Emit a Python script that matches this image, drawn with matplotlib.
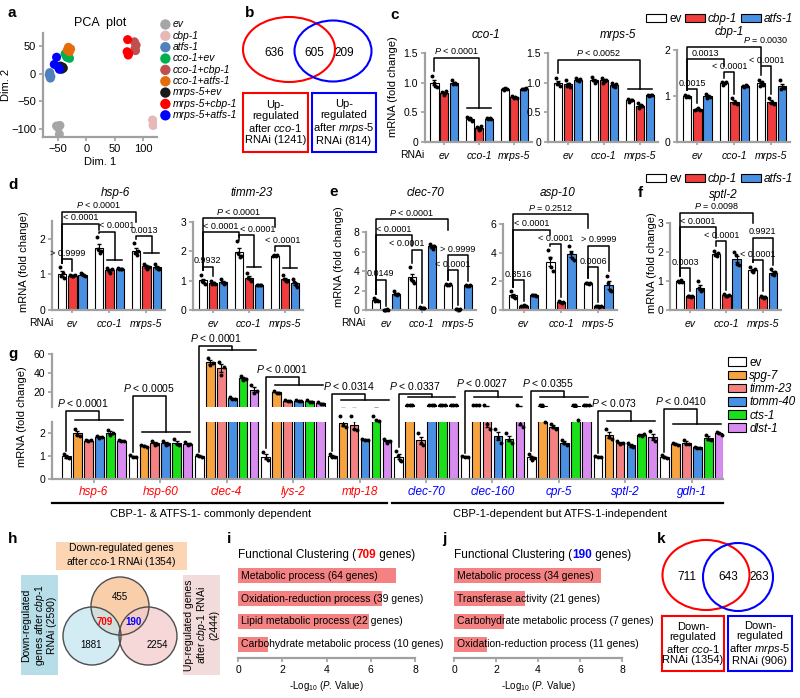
import numpy as np
import matplotlib
matplotlib.use('Agg')
import matplotlib.pyplot as plt
from matplotlib.patches import Ellipse, Circle, Rectangle, Patch
from matplotlib.offsetbox import TextArea, HPacker, AnnotationBbox

plt.rcParams['font.family'] = ['Liberation Sans', 'DejaVu Sans']
plt.rcParams['mathtext.fontset'] = 'custom'
plt.rcParams['mathtext.rm'] = 'Liberation Sans'
plt.rcParams['mathtext.it'] = 'Liberation Sans:italic'
plt.rcParams['mathtext.bf'] = 'Liberation Sans:bold'

W, H = 800, 698
GRAY = '#a0a0a0'

# ---- a: PCA
pca_groups = ['ev', 'cbp-1', 'atfs-1', 'cco-1+ev', 'cco-1+cbp-1', 'cco-1+atfs-1',
              'mrps-5+ev', 'mrps-5+cbp-1', 'mrps-5+atfs-1']
pca_points = [
    [(-53, -95), (-47, -94), (-50, -98), (-48, -110)],
    [(117, -84), (122, -88), (125, -92), (118, -94)],
    [(-66, -2), (-64, -8), (-63, -5), (-65, 2)],
    [(-38, 36), (-33, 33), (-30, 28), (-35, 30)],
    [(85, 58), (88, 52), (86, 46), (87, 42)],
    [(-32, 48), (-28, 45), (-30, 40), (-34, 43)],
    [(-46, 14), (-42, 12), (-44, 8), (-41, 10)],
    [(73, 62), (72, 40), (74, 34), (75, 37)],
    [(-53, 30), (-57, 17), (-50, 12), (-48, 8)],
]
pca_colors = ['#a6a6a6', '#e6b9b8', '#4f81bd', '#00b050', '#c0504d', '#e46c0a',
              '#1a1a1a', '#ff0000', '#0000ff']

# ---- b / k venn
venn_up = [636, 605, 209]
venn_down = [711, 643, 263]

# ---- c-f: RNAi groups, bars ev / cbp-1 / atfs-1
rnai = ['ev', 'cco-1', 'mrps-5']
c_cco1 = [[1.12, 1.0, 0.95, 0.93], [0.85, 0.8, 0.82, 0.86], [1.05, 0.98, 1.0, 0.97],
          [0.42, 0.38, 0.41, 0.36], [0.25, 0.2, 0.22, 0.27], [0.4, 0.38, 0.41, 0.39],
          [0.9, 0.88, 0.91, 0.9], [0.77, 0.75, 0.76, 0.74], [0.9, 0.89, 0.9, 0.91]]
c_mrps5 = [[1.08, 0.98, 1.0, 0.95], [1.05, 0.95, 0.97, 0.92], [1.08, 1.05, 1.02, 1.06],
           [1.1, 1.05, 1.0, 1.03], [1.08, 1.0, 1.02, 1.05], [1.0, 0.95, 0.93, 0.98],
           [0.72, 0.68, 0.7, 0.7], [0.65, 0.58, 0.62, 0.6], [0.8, 0.78, 0.79, 0.8]]
c_cbp1 = [[1.02, 0.97, 1.0, 0.98], [0.7, 0.72, 0.74, 0.7], [1.05, 0.95, 1.0, 0.97],
          [1.3, 1.25, 1.28, 1.3], [0.95, 0.85, 0.88, 0.82], [1.22, 1.2, 1.23, 1.22],
          [1.35, 1.22, 1.3, 1.25], [0.95, 0.85, 0.88, 0.82], [1.35, 1.15, 1.2, 1.17]]
d_hsp6 = [[1.2, 0.95, 1.05, 0.9], [0.98, 0.95, 0.96, 0.97], [1.05, 1.0, 0.98, 0.95],
          [2.05, 1.7, 1.6, 1.65], [1.18, 1.1, 1.05, 1.15], [1.17, 1.15, 1.16, 1.15],
          [1.88, 1.6, 1.55, 1.65], [1.3, 1.25, 1.15, 1.2], [1.3, 1.2, 1.15, 1.15]]
d_timm23 = [[1.2, 0.98, 0.95, 0.9], [1.0, 0.9, 0.92, 0.88], [1.05, 0.95, 0.88, 0.92],
            [2.35, 1.95, 1.8, 1.85], [1.25, 1.1, 1.05, 1.0], [0.85, 0.84, 0.86, 0.85],
            [1.85, 1.87, 1.83, 1.86], [1.2, 1.05, 1.0, 0.98], [1.05, 0.95, 0.85, 0.8]]
e_clec70 = [[1.2, 0.95, 1.0, 0.9], [0.05, 0.04, 0.06, 0.05], [2.0, 1.6, 1.5, 1.6],
            [4.4, 3.2, 3.0, 2.8], [0.3, 0.25, 0.2, 0.22], [6.8, 6.5, 6.3, 6.6],
            [2.65, 2.6, 2.55, 2.62], [0.08, 0.06, 0.05, 0.07], [2.6, 2.5, 2.45, 2.55]]
e_asp10 = [[1.3, 1.0, 0.9, 0.85], [0.3, 0.28, 0.32, 0.3], [1.05, 1.08, 1.02, 1.0],
           [4.2, 3.6, 3.0, 2.7], [0.6, 0.55, 0.5, 0.55], [4.5, 4.0, 3.6, 3.5],
           [1.9, 1.85, 1.8, 1.85], [0.28, 0.25, 0.24, 0.26], [2.4, 1.9, 1.4, 1.3]]
f_sptl2 = [[1.0, 0.98, 1.02, 0.97], [0.5, 0.47, 0.45, 0.48], [1.0, 0.75, 0.65, 0.7],
           [2.05, 1.9, 1.85, 1.95], [0.55, 0.5, 0.48, 0.52], [2.0, 1.9, 1.6, 1.55],
           [1.5, 1.35, 1.3, 1.4], [0.5, 0.45, 0.43, 0.44], [1.4, 1.25, 1.2, 1.3]]

# ---- g
g_genes = ['hsp-6', 'hsp-60', 'clec-4', 'lys-2', 'mtp-18',
           'clec-70', 'clec-160', 'cpr-5', 'sptl-2', 'gdh-1']
g_rnai = ['ev', 'spg-7', 'timm-23', 'tomm-40', 'cts-1', 'dlst-1']
g_reps = [
    [[1.1, 0.95, 0.92], [2.2, 1.95, 1.9], [1.7, 1.65, 1.7], [1.9, 1.8, 1.85], [2.15, 1.95, 2.0], [1.72, 1.65, 1.68]],
    [[1.05, 0.98, 0.97], [1.5, 1.45, 1.42], [1.65, 1.5, 1.55], [1.68, 1.5, 1.55], [1.75, 1.55, 1.5], [1.62, 1.5, 1.55]],
    [[1.05, 1.0, 0.98], [56, 48, 50], [52, 38, 46], [15, 12, 12], [37, 33, 34], [27, 19, 21]],
    [[1.2, 0.9, 0.85], [20.5, 18.5, 19], [11, 10, 10], [11, 10, 10], [11, 9, 9.5], [9, 7, 7.5]],
    [[1.1, 0.98, 0.95], [2.75, 2.35, 2.3], [2.75, 2.2, 2.15], [1.75, 1.7, 1.7], [2.75, 2.6, 2.55], [1.75, 1.6, 1.65]],
    [[1.25, 1.0, 0.85, 0.8], [6.1, 6.0, 6.05], [2.0, 1.6, 1.5], [5.9, 6.0, 5.95], [6.0, 5.95, 6.05], [6.3, 6.1, 6.0]],
    [[1.0, 0.95, 0.97], [6.2, 6.1, 6.0], [5.9, 2.4, 2.2], [2.2, 1.8, 1.6], [2.0, 1.7, 1.6], [6.0, 2.4, 2.3]],
    [[1.1, 0.95, 0.85, 0.9], [6.0, 6.1, 2.5], [2.4, 2.3, 2.2], [1.7, 1.6, 1.5], [6.0, 6.0, 2.6], [6.1, 6.0, 6.05]],
    [[1.0, 0.95, 0.97], [2.2, 1.85, 1.75], [1.65, 1.55, 1.6], [1.6, 1.45, 1.4], [1.95, 1.9, 1.98], [2.1, 1.8, 1.65]],
    [[1.05, 0.95, 0.9], [1.6, 1.55, 1.5], [1.7, 1.55, 1.55], [1.4, 1.38, 1.37], [1.95, 1.75, 1.7], [2.05, 2.0, 1.95]],
]
g_pvals = ['0.0001', '0.0005', '0.0001', '0.0001', '0.0314',
           '0.0337', '0.0027', '0.0355', '0.073', '0.0410']

# ---- i / j
i_terms = ['Metabolic process (64 genes)', 'Oxidation-reduction process (39 genes)',
           'Lipid metabolic process (22 genes)', 'Carbohydrate metabolic process (10 genes)']
i_vals = [7.15, 6.5, 5.9, 1.35]
j_terms = ['Metabolic process (34 genes)', 'Transferase activity (21 genes)',
           'Carbohydrate metabolic process (7 genes)', 'Oxidation-reduction process (11 genes)']
j_vals = [7.0, 3.4, 2.4, 1.57]

C3 = ['#ffffff', '#f03c3c', '#4a90e2']
C6 = ['#ffffff', '#f7a440', '#f58282', '#4a90e2', '#19e019', '#d98cf0']

fig = plt.figure(figsize=(W / 100, H / 100), dpi=100)
fig.patch.set_facecolor('white')


def px_axes(x0, y0, x1, y1):
    return fig.add_axes([x0 / W, 1 - y1 / H, (x1 - x0) / W, (y1 - y0) / H])


def style(ax):
    for s in ['top', 'right']:
        ax.spines[s].set_visible(False)
    for s in ['left', 'bottom']:
        ax.spines[s].set_color(GRAY)
        ax.spines[s].set_linewidth(1.6)
    ax.tick_params(color=GRAY, labelcolor='black', labelsize=7.5, width=1.2, length=3, pad=2)


PITCH = 0.28
BW = 0.23


def xpos3(i):
    g = int(i // 3)
    return g + (i - 3 * g - 1) * PITCH


def bar_panel(box, reps, ylim, yticks, ylabels, brackets, ylab_x=None, ylab_y=0.5):
    ax = px_axes(*box)
    style(ax)
    pad = 0.05 * ylim[1]
    for i, r in enumerate(reps):
        x = xpos3(i)
        m = np.mean(r)
        se = np.std(r, ddof=1) / np.sqrt(len(r))
        ax.bar(x, m, BW, color=C3[i % 3], edgecolor='black', linewidth=0.8, zorder=2)
        ax.errorbar(x, m, yerr=se, fmt='none', ecolor='black', elinewidth=0.8, capsize=1.5, zorder=3)
        ax.scatter(x + np.linspace(-0.06, 0.06, len(r)), r, s=8, color='black',
                   linewidths=0, zorder=4, clip_on=False)
    for br in brackets:
        i, j, top, down, label = br[:5]
        dx = br[5] if len(br) > 5 else 0
        x1 = xpos3(i)
        y1 = max(reps[i]) + pad
        if isinstance(j, tuple):
            a, b = j
            x2 = (xpos3(a) + xpos3(b)) / 2
            ax.plot([xpos3(a) - 0.06, xpos3(b) + 0.06], [down, down], color='black', lw=1.1, clip_on=False)
        else:
            x2 = xpos3(j)
            if down is None:
                down = max(reps[j]) + pad
        ax.plot([x1, x1, x2, x2], [y1, top, top, down], color='black', lw=1.1, clip_on=False)
        ax.annotate(label, ((x1 + x2) / 2 + dx, top), xytext=(0, 1), textcoords='offset points',
                    ha='center', va='bottom', fontsize=6.5, annotation_clip=False)
    ax.set_xlim(-0.55, 2.5)
    ax.set_ylim(*ylim)
    ax.set_yticks(yticks)
    ax.set_yticklabels(ylabels)
    ax.set_xticks([0, 1, 2])
    ax.set_xticklabels(rnai, fontstyle='italic')
    ax.tick_params(axis='x', length=2.5, pad=4)
    if ylab_x is not None:
        ax.set_ylabel('mRNA (fold change)', fontsize=8)
        ax.yaxis.set_label_coords(ylab_x, ylab_y)
    return ax


# overlay in pixel coordinates for panel letters, venns and boxes
ov = fig.add_axes([0, 0, 1, 1], zorder=10)
ov.set_xlim(0, W)
ov.set_ylim(H, 0)
ov.axis('off')

for letter, x, y in [('a', 8, 13), ('b', 245, 13), ('c', 390, 15), ('d', 8, 185), ('e', 329, 192),
                     ('f', 638, 193), ('g', 8, 354), ('h', 8, 539), ('i', 227, 539), ('j', 442, 539),
                     ('k', 657, 539)]:
    ov.text(x, y, letter, fontsize=11, fontweight='bold', ha='left', va='center')

# ---- panel a
ax = px_axes(43, 33, 157, 137)
style(ax)
for name, col, pts in zip(pca_groups, pca_colors, pca_points):
    p = np.array(pts)
    ax.scatter(p[:, 0], p[:, 1], s=42, color=col, edgecolors='none', label=name)
ax.set_xlim(-77, 125)
ax.set_ylim(-115, 74)
ax.set_xticks([-50, 0, 50, 100])
ax.set_yticks([-100, -50, 0, 50])
ax.tick_params(labelsize=8)
ax.set_xlabel('Dim. 1', fontsize=8, labelpad=2)
ax.set_ylabel('Dim. 2', fontsize=8, labelpad=0)
ax.set_title('PCA  plot', fontsize=9, pad=5)
leg = fig.legend(*ax.get_legend_handles_labels(), loc='upper left', bbox_to_anchor=(156 / W, 1 - 14 / H),
                 frameon=False, fontsize=7.5, handlelength=0.8, handletextpad=0.3, labelspacing=0.13,
                 borderpad=0, markerscale=1.15)
for t in leg.get_texts():
    t.set_fontstyle('italic')

# ---- panel b
ov.add_patch(Ellipse((289, 49.5), 92, 65, fill=False, ec='#ff0000', lw=1.5))
ov.add_patch(Ellipse((333, 51), 77, 61, fill=False, ec='#0000ff', lw=1.5))
for v, x in zip(venn_up, [274, 314, 344]):
    ov.text(x, 53, str(v), ha='center', va='center', fontsize=8.5)
ov.add_patch(Rectangle((243, 93), 65, 59, fill=False, ec='#ff0000', lw=1.5))
ov.add_patch(Rectangle((312, 93), 64, 59, fill=False, ec='#0000ff', lw=1.5))
ov.text(275.5, 122.5, 'Up-\nregulated\nafter $\\mathit{cco}$-$\\mathit{1}$\nRNAi (1241)', ha='center',
        va='center', fontsize=8, linespacing=1.1)
ov.text(344, 122.5, 'Up-\nregulated\nafter $\\mathit{mrps}$-$\\mathit{5}$\nRNAi (814)', ha='center',
        va='center', fontsize=8, linespacing=1.1)

# ---- panel c
bar_panel((425, 53, 532, 142), c_cco1, (0, 1.5), [0, 0.5, 1.0, 1.5], ['0', '0.5', '1.0', '1.5'],
          [(0, (3, 5), 1.42, 0.58, '$P$ < 0.0001')], ylab_x=-0.25, ylab_y=0.62)
bar_panel((548, 53, 658, 142), c_mrps5, (0, 1.5), [0, 0.5, 1.0, 1.5], ['0', '0.5', '1.0', '1.5'],
          [(0, (6, 8), 1.39, 0.9, '$P$ < 0.0052')])
bar_panel((677, 50, 790, 142), c_cbp1, (0, 2), [0, 1, 2], ['0', '1', '2'],
          [(0, 6, 2.07, 1.68, '$P$ = 0.0030', 1.12), (0, 3, 1.8, 1.65, '0.0013'),
           (3, 4, 1.52, None, '< 0.0001'), (6, 7, 1.65, None, '< 0.0001'),
           (0, 1, 1.15, None, '0.0015')])
for name, x, y in [('cco-1', 486, 35), ('mrps-5', 618, 35), ('cbp-1', 729, 32)]:
    ov.text(x, y, name, ha='center', va='center', fontsize=8.5, fontstyle='italic')
ov.text(412, 155, 'RNAi', ha='center', va='center', fontsize=7.5)
leg = fig.legend([Patch(fc=c, ec='black', lw=0.8) for c in C3], ['ev', 'cbp-1', 'atfs-1'],
                 loc='center right', bbox_to_anchor=(799 / W, 1 - 19 / H), ncol=3, frameon=False,
                 fontsize=8.5, handlelength=1.7, handleheight=0.75, columnspacing=0.3,
                 handletextpad=0.25, borderpad=0)
for t in leg.get_texts()[1:]:
    t.set_fontstyle('italic')

# ---- panel d
bar_panel((52, 221, 165, 310), d_hsp6, (0, 2.5), [0, 1, 2], ['0', '1', '2'],
          [(0, 6, 2.76, 2.48, '$P$ < 0.0001'), (0, 3, 2.42, 2.25, '< 0.0001'),
           (3, (4, 5), 2.2, 1.41, '< 0.0001', 0.27), (6, (7, 8), 2.08, 1.6, '0.0013'),
           (0, 1, 1.43, None, '> 0.9999')], ylab_x=-0.2, ylab_y=0.54)
bar_panel((193, 222, 303, 310), d_timm23, (0, 3), [0, 1, 2, 3], ['0', '1', '2', '3'],
          [(0, 6, 3.13, 2.83, '$P$ < 0.0001'), (0, 3, 2.66, 2.4, '< 0.0001'),
           (3, (4, 5), 2.56, 1.47, '< 0.0001', 0.3), (6, (7, 8), 2.18, 1.43, '< 0.0001'),
           (0, 1, 1.47, None, '0.9932')])
for name, x in [('hsp-6', 115), ('timm-23', 252)]:
    ov.text(x, 193, name, ha='center', va='center', fontsize=8.5, fontstyle='italic')
ov.text(41, 323, 'RNAi', ha='center', va='center', fontsize=7.5)

# ---- panel e
bar_panel((366, 232, 476, 310), e_clec70, (0, 8), [0, 2, 4, 6, 8], ['0', '2', '4', '6', '8'],
          [(0, 6, 9.3, 8.2, '$P$ < 0.0001'), (0, 3, 7.7, 6.6, '< 0.0001'),
           (3, 4, 6.2, None, '< 0.0001', -0.28), (6, 8, 5.6, None, '> 0.9999'),
           (6, 7, 4.1, None, '< 0.0001'), (0, 1, 3.1, None, '0.0149')], ylab_x=-0.2, ylab_y=0.69)
bar_panel((503, 224, 617, 310), e_asp10, (0, 6), [0, 2, 4, 6], ['0', '2', '4', '6'],
          [(0, 6, 6.7, 5.7, '$P$ = 0.2512'), (0, 3, 5.6, 5.2, '< 0.0001'),
           (3, 4, 4.6, None, '< 0.0001'), (6, 8, 4.5, None, '> 0.9999'),
           (6, 7, 3.0, None, '0.0006'), (0, 1, 2.07, None, '0.3516')])
for name, x in [('clec-70', 425), ('asp-10', 558)]:
    ov.text(x, 193, name, ha='center', va='center', fontsize=8.5, fontstyle='italic')
ov.text(353, 323, 'RNAi', ha='center', va='center', fontsize=7.5)

# ---- panel f
bar_panel((670, 223, 781, 310), f_sptl2, (0, 3), [0, 1, 2, 3], ['0', '1', '2', '3'],
          [(0, 6, 3.35, 3.0, '$P$ = 0.0098'), (0, 3, 2.85, 2.5, '< 0.0001'),
           (3, 4, 2.38, None, '< 0.0001'), (6, 8, 2.5, None, '0.9921'),
           (6, 7, 1.72, None, '< 0.0001'), (0, 1, 1.45, None, '0.0003')], ylab_x=-0.12, ylab_y=0.55)
ov.text(723, 195, 'sptl-2', ha='center', va='center', fontsize=8.5, fontstyle='italic')
leg = fig.legend([Patch(fc=c, ec='black', lw=0.8) for c in C3], ['ev', 'cbp-1', 'atfs-1'],
                 loc='center right', bbox_to_anchor=(799 / W, 1 - 179 / H), ncol=3, frameon=False,
                 fontsize=8.5, handlelength=1.7, handleheight=0.75, columnspacing=0.3,
                 handletextpad=0.25, borderpad=0)
for t in leg.get_texts()[1:]:
    t.set_fontstyle('italic')

# ---- panel g (broken axis)
GP, GW = 0.165, 0.13
axl = px_axes(52, 422, 723, 479)
axu = px_axes(52, 354, 723, 407)
axu.patch.set_visible(False)
style(axl)
style(axu)
axu.spines['bottom'].set_visible(False)
axu.set_xticks([])
g_tops = [2.98, 3.64, 5.82, 4.49, 3.73, 3.73, 3.87, 3.87, 2.98, 3.07]
g_lines = [2.58, 2.04, 5.64, 4.13, 3.47, 3.6, 3.6, 3.6, 2.53, 2.4]
for gi, reps in enumerate(g_reps):
    for k, r in enumerate(reps):
        x = gi + (k - 2.5) * GP
        m = np.mean(r)
        se = np.std(r, ddof=1) / np.sqrt(len(r))
        for a in (axl, axu):
            a.bar(x, m, GW, color=C6[k], edgecolor='black', linewidth=0.8, zorder=2)
            a.errorbar(x, m, yerr=se, fmt='none', ecolor='black', elinewidth=0.8, capsize=1.2, zorder=3)
        r = np.array(r)
        xs = x + np.linspace(-0.04, 0.04, len(r))
        lo = r <= 4
        axl.scatter(xs[lo], r[lo], s=8, color='black', linewidths=0, zorder=4, clip_on=False)
        axu.scatter(xs[~lo], r[~lo], s=8, color='black', linewidths=0, zorder=4)
    x1 = gi - 2.5 * GP
    xa, xb = gi - 1.5 * GP, gi + 2.5 * GP
    x2 = (xa + xb) / 2
    y1 = max(reps[0]) + 0.15
    axl.plot([x1, x1, x2, x2], [y1, g_tops[gi], g_tops[gi], g_lines[gi]], color='black', lw=1.1, clip_on=False)
    axl.plot([xa - 0.03, xb + 0.03], [g_lines[gi], g_lines[gi]], color='black', lw=1.1, clip_on=False)
    axl.annotate('$P$ < ' + g_pvals[gi], ((x1 + x2) / 2, g_tops[gi]), xytext=(0, 1.5),
                 textcoords='offset points', ha='center', va='bottom', fontsize=7.5, annotation_clip=False)
axl.set_xlim(-0.63, 9.47)
axu.set_xlim(-0.63, 9.47)
axl.set_ylim(0, 2.5)
axu.set_ylim(4, 60)
axl.set_yticks([0, 1, 2])
axu.set_yticks([20, 40, 60])
axl.set_xticks(range(len(g_genes)))
axl.set_xticklabels(g_genes, fontstyle='italic', fontsize=8.5)
axl.tick_params(axis='x', length=3, pad=2)
for idx, t in enumerate(axl.get_xticklabels()):
    t.set_color('#ff0000' if idx < 5 else '#0000ff')
axl.set_ylabel('mRNA (fold change)', fontsize=8)
axl.yaxis.set_label_coords(-0.038, 1.1)
ov.plot([52, 387], [503, 503], color='black', lw=1.6)
ov.plot([392, 723], [503, 503], color='black', lw=1.6)
ov.text(211, 514, 'CBP-1- & ATFS-1- commonly dependent', ha='center', va='center', fontsize=8)
ov.text(560, 514, 'CBP-1-dependent but ATFS-1-independent', ha='center', va='center', fontsize=8)
leg = fig.legend([Patch(fc=c, ec='black', lw=0.8) for c in C6], g_rnai, loc='upper left',
                 bbox_to_anchor=(722 / W, 1 - 351 / H), frameon=False, fontsize=8.5, handlelength=1.5,
                 handleheight=0.75, labelspacing=0.1, handletextpad=0.3, borderpad=0)
for t in leg.get_texts()[1:]:
    t.set_fontstyle('italic')

# ---- panel h
ov.add_patch(Rectangle((56, 542), 131, 28, fc='#fcd5b4', ec='none'))
ov.add_patch(Rectangle((21, 575), 37, 100, fc='#b7dee8', ec='none'))
ov.add_patch(Rectangle((183, 575), 37, 100, fc='#f2dcdb', ec='none'))
ov.text(121.5, 556, 'Down-regulated genes\nafter $\\mathit{cco}$-$\\mathit{1}$ RNAi (1354)', ha='center',
        va='center', fontsize=7.5, linespacing=1.15)
ov.text(39.5, 625, 'Down-regulated\ngenes after $\\mathit{cbp}$-$\\mathit{1}$\nRNAi (2590)', ha='center',
        va='center', fontsize=7.5, rotation=90, linespacing=1.1)
ov.text(201.5, 625, 'Up-regulated genes\nafter $\\mathit{cbp}$-$\\mathit{1}$ RNAi\n(2444)', ha='center',
        va='center', fontsize=7.5, rotation=90, linespacing=1.1)
for (cx, cy), fc in [((120, 606), '#f7c08f'), ((92, 636), '#c5e6ef'), ((148, 636), '#f3cccc')]:
    ov.add_patch(Circle((cx, cy), 29, fc=fc, ec='none', alpha=0.75))
for (cx, cy) in [(120, 606), (92, 636), (148, 636)]:
    ov.add_patch(Circle((cx, cy), 29, fill=False, ec='#4d4d4d', lw=1.0))
ov.text(120, 597, '455', ha='center', va='center', fontsize=7)
ov.text(105, 622, '709', ha='center', va='center', fontsize=7, color='#ff0000', fontweight='bold')
ov.text(134, 622, '190', ha='center', va='center', fontsize=7, color='#0000ff', fontweight='bold')
ov.text(91, 645, '1881', ha='center', va='center', fontsize=7)
ov.text(157, 645, '2254', ha='center', va='center', fontsize=7)


# ---- panels i / j
def cluster_panel(box, terms, vals, count, color):
    ax = px_axes(*box)
    style(ax)
    ax.spines['left'].set_visible(False)
    ax.barh(range(len(vals)), vals, 0.65, color='#f58282', zorder=1)
    for k, t in enumerate(terms):
        ax.text(0.15, k, t, ha='left', va='center', fontsize=7.5, zorder=2)
    ax.set_xlim(0, 8)
    ax.set_ylim(3.6, -0.6)
    ax.set_yticks([])
    ax.set_xticks([0, 2, 4, 6, 8])
    ax.set_xlabel('-Log$_{10}$ ($P$. Value)', fontsize=7, labelpad=3)
    parts = [TextArea('Functional Clustering (', textprops=dict(fontsize=8.5)),
             TextArea(count, textprops=dict(fontsize=8.5, color=color, fontweight='bold')),
             TextArea(' genes)', textprops=dict(fontsize=8.5))]
    pack = HPacker(children=parts, align='baseline', pad=0, sep=0)
    ab = AnnotationBbox(pack, (0, 1.0), xycoords='axes fraction', box_alignment=(0, 0),
                        xybox=(0, 1), boxcoords='offset points', frameon=False)
    ax.add_artist(ab)


cluster_panel((238, 562, 415, 658), i_terms, i_vals, '709', '#ff0000')
cluster_panel((454, 562, 622, 658), j_terms, j_vals, '190', '#0000ff')

# ---- panel k
ov.add_patch(Ellipse((706, 575), 87, 70, fill=False, ec='#ff0000', lw=1.5))
ov.add_patch(Ellipse((738, 577), 70, 68, fill=False, ec='#0000ff', lw=1.5))
for v, x in zip(venn_down, [687, 728, 759]):
    ov.text(x, 577, str(v), ha='center', va='center', fontsize=8.5)
ov.add_patch(Rectangle((662, 616), 62, 55, fill=False, ec='#ff0000', lw=1.5))
ov.add_patch(Rectangle((728, 616), 64, 55, fill=False, ec='#0000ff', lw=1.5))
ov.text(693, 643.5, 'Down-\nregulated\nafter $\\mathit{cco}$-$\\mathit{1}$\nRNAi (1354)', ha='center',
        va='center', fontsize=8, linespacing=1.05)
ov.text(760, 643.5, 'Down-\nregulated\nafter $\\mathit{mrps}$-$\\mathit{5}$\nRNAi (906)', ha='center',
        va='center', fontsize=8, linespacing=1.05)

fig.savefig('out.png', dpi=100)
